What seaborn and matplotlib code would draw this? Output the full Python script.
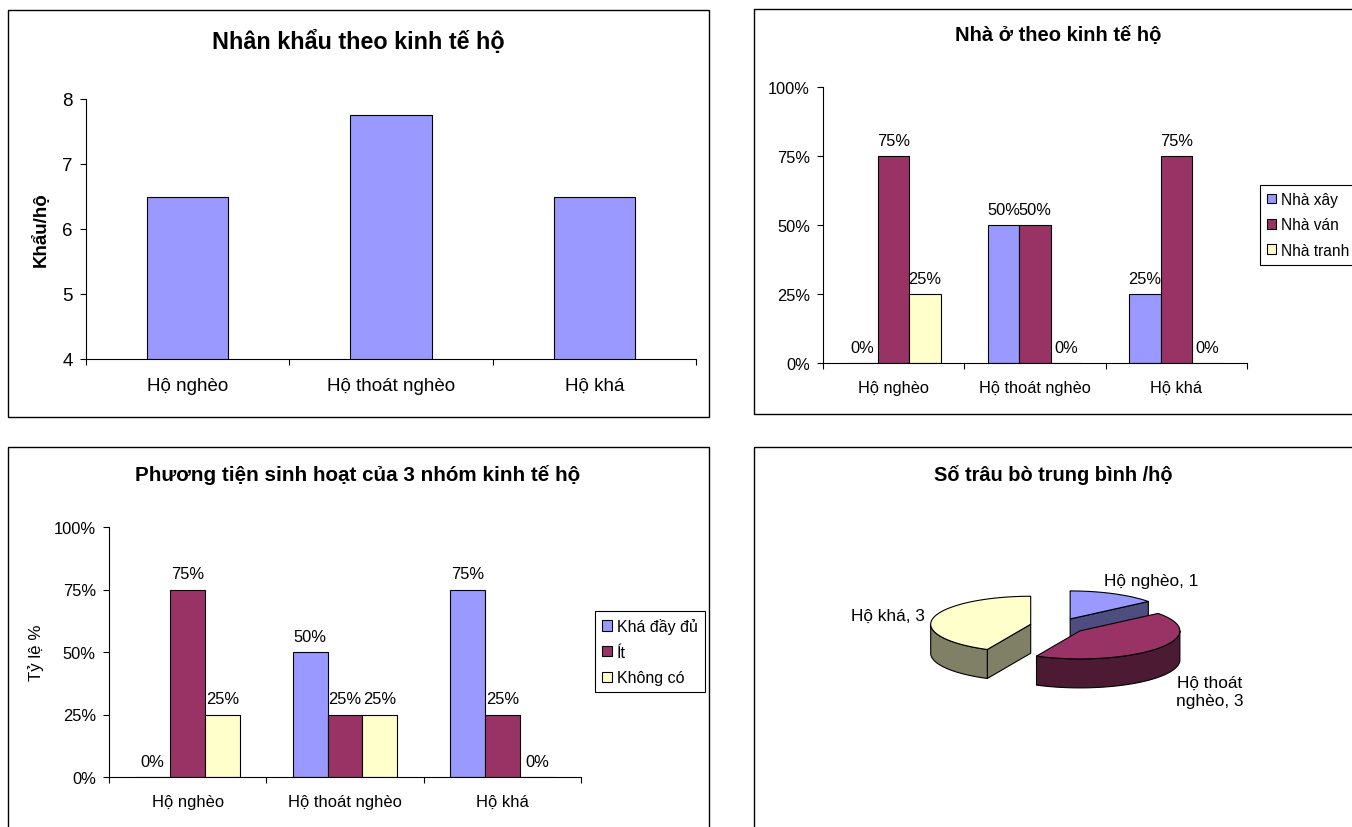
import numpy as np
import pandas as pd
import matplotlib
matplotlib.use("Agg")
import matplotlib.pyplot as plt
import seaborn as sns
from matplotlib.patches import Polygon, Rectangle, Patch
from matplotlib.ticker import PercentFormatter

# ---------------- data ----------------
categories = ["Hộ nghèo", "Hộ thoát nghèo", "Hộ khá"]

# persons per household
household_size = [6.5, 7.75, 6.5]

# housing type shares
housing_types = ["Nhà xây", "Nhà ván", "Nhà tranh"]
housing_brick = [0.00, 0.50, 0.25]
housing_plank = [0.75, 0.50, 0.75]
housing_thatch = [0.25, 0.00, 0.00]

# household amenities shares
amenity_levels = ["Khá đầy đủ", "Ít", "Không có"]
amenity_full = [0.00, 0.50, 0.75]
amenity_few = [0.75, 0.25, 0.25]
amenity_none = [0.25, 0.25, 0.00]

# average buffalo / cattle per household
cattle_labels = ["Hộ nghèo", "Hộ thoát\nnghèo", "Hộ khá"]
cattle_counts = [1, 3, 3]

# ---------------- style ----------------
BLUE, PLUM, CREAM = "#9999FF", "#993366", "#FFFFCC"
sns.set_style("ticks", {"axes.edgecolor": "black", "text.color": "black",
                        "axes.labelcolor": "black", "xtick.color": "black",
                        "ytick.color": "black"})
plt.rcParams["font.family"] = ["Liberation Sans", "DejaVu Sans"]

W, H = 1352, 828
fig = plt.figure(figsize=(W / 100, H / 100), dpi=100)
fig.patch.set_facecolor("white")

# background canvas in pixel units (y grows downward) for frames, titles and the 3-D pie
bg = fig.add_axes([0, 0, 1, 1])
bg.set_xlim(0, W)
bg.set_ylim(H, 0)
bg.axis("off")


def px_axes(left, top, right, bottom):
    return fig.add_axes([left / W, 1 - bottom / H, (right - left) / W, (bottom - top) / H])


# chart frames
for (l, t, r, b) in [(8, 11, 709, 418), (754, 10, 1375, 415),
                     (8, 448, 709, 850), (754, 448, 1375, 850)]:
    bg.add_patch(Rectangle((l, t), r - l, b - t, fill=False, ec="black", lw=1.0,
                           clip_on=True))


def style_bar_axes(ax, fs, pad_x):
    sns.despine(ax=ax)
    for s in ["left", "bottom"]:
        ax.spines[s].set_color("black")
        ax.spines[s].set_linewidth(0.8)
    ax.set_facecolor("none")
    ax.set_xlabel("")
    ax.set_ylabel("")
    n = len(categories)
    ax.set_xlim(-0.5, n - 0.5)
    ax.set_xticks(np.arange(n + 1) - 0.5)
    ax.set_xticklabels([])
    ax.set_xticks(np.arange(n), minor=True)
    ax.set_xticklabels(categories, minor=True, fontsize=fs)
    ax.tick_params(axis="x", which="major", bottom=True, direction="out",
                   length=4, width=0.8, color="black")
    ax.tick_params(axis="x", which="minor", bottom=True, length=0, pad=pad_x)
    ax.tick_params(axis="y", left=True, direction="out", length=4, width=0.8,
                   labelsize=fs, pad=5.5, color="black")


# ---------------- chart 1: persons per household ----------------
ax1 = px_axes(86, 100, 696, 360)
sns.barplot(x=categories, y=household_size, color=BLUE, width=0.4, saturation=1,
            edgecolor="black", linewidth=0.8, ax=ax1)
ax1.set_ylim(4, 8)
ax1.set_yticks([4, 5, 6, 7, 8])
style_bar_axes(ax1, 13.5, 13)
ax1.set_ylabel("Khẩu/hộ", fontsize=13.5, fontweight="bold")
ax1.yaxis.set_label_coords(-0.059, 0.5)
bg.text(358, 42, "Nhân khẩu theo kinh tế hộ", ha="center", va="center",
        fontsize=16.8, fontweight="bold")


def grouped_chart(ax, levels, series, palette, fs):
    df = pd.DataFrame({
        "nhom": np.tile(categories, len(levels)),
        "loai": np.repeat(levels, len(categories)),
        "ty_le": np.concatenate(series),
    })
    sns.barplot(data=df, x="nhom", y="ty_le", hue="loai", order=categories,
                hue_order=levels, palette=palette, width=2 / 3, gap=0,
                saturation=1, edgecolor="black", linewidth=0.8, errorbar=None,
                legend=False, ax=ax)
    for cont, vals in zip(ax.containers, series):
        ax.bar_label(cont, labels=[f"{v:.0%}" for v in vals], padding=6,
                     fontsize=fs)
    ax.set_ylim(0, 1)
    ax.set_yticks([0, 0.25, 0.5, 0.75, 1.0])
    ax.yaxis.set_major_formatter(PercentFormatter(1.0, decimals=0))
    style_bar_axes(ax, fs, 12)


def box_legend(ax, levels, palette, x, y, fs):
    handles = [Patch(facecolor=c, edgecolor="black", linewidth=0.8) for c in palette]
    leg = ax.legend(handles, levels, loc="upper left", bbox_to_anchor=(x, y),
                    bbox_transform=bg.transData, borderaxespad=0, fontsize=fs,
                    frameon=True, fancybox=False, shadow=False, framealpha=1,
                    handlelength=0.6, handleheight=0.6, handletextpad=0.3,
                    labelspacing=0.66, borderpad=0.45)
    leg.get_frame().set_edgecolor("black")
    leg.get_frame().set_linewidth(0.8)
    leg.set_zorder(5)


palette3 = [BLUE, PLUM, CREAM]

# ---------------- chart 2: housing ----------------
ax2 = px_axes(823, 88, 1247, 364)
grouped_chart(ax2, housing_types, [housing_brick, housing_plank, housing_thatch],
              palette3, 11.8)
box_legend(ax2, housing_types, palette3, 1260, 186, 11.2)
bg.text(1058, 35, "Nhà ở theo kinh tế hộ", ha="center", va="center",
        fontsize=14.5, fontweight="bold")

# ---------------- chart 3: amenities ----------------
ax3 = px_axes(109, 528, 581, 778)
grouped_chart(ax3, amenity_levels, [amenity_full, amenity_few, amenity_none],
              palette3, 11.9)
ax3.set_ylabel("Tỷ lệ %", fontsize=12.2)
ax3.yaxis.set_label_coords(-0.138, 0.5)
box_legend(ax3, amenity_levels, palette3, 595, 612, 11.5)
bg.text(358, 475, "Phương tiện sinh hoạt của 3 nhóm kinh tế hộ", ha="center",
        va="center", fontsize=14.9, fontweight="bold")

# ---------------- chart 4: 3-D exploded pie ----------------
bg.text(1053, 475, "Số trâu bò trung bình /hộ", ha="center", va="center",
        fontsize=14.4, fontweight="bold")


def shade(hex_color, k=0.5):
    rgb = np.array(matplotlib.colors.to_rgb(hex_color))
    return tuple(rgb * k)


def pie3d(ax, values, colors, center, rx, ry, depth, explode, start=90.0):
    cx, cy = center
    total = float(sum(values))
    spans, a = [], start
    for v in values:
        a2 = a - 360.0 * v / total
        spans.append((a2, a))
        a = a2

    def rim(c, th, drop=0.0):
        t = np.radians(th)
        return np.column_stack([c[0] + rx * np.cos(t), c[1] - ry * np.sin(t) + drop])

    slices = []
    for (lo, hi), col in zip(spans, colors):
        m = np.radians((lo + hi) / 2)
        c = (cx + explode * rx * np.cos(m), cy - explode * ry * np.sin(m))
        slices.append((c, lo, hi, col))

    for c, lo, hi, col in sorted(slices, key=lambda s: s[0][1]):
        side = shade(col)
        kw = dict(ec="black", lw=0.8, joinstyle="round")
        # flat cut faces that face the viewer
        for edge, normal in [(hi, hi + 90), (lo, lo - 90)]:
            if np.sin(np.radians(normal)) < -1e-6:
                p = rim(c, [edge])[0]
                quad = [c, p, (p[0], p[1] + depth), (c[0], c[1] + depth)]
                ax.add_patch(Polygon(quad, closed=True, fc=side, **kw))
        # curved outer wall on the front half
        for k in range(-2, 2):
            w0, w1 = max(lo, 180 + 360 * k), min(hi, 360 + 360 * k)
            if w1 > w0:
                th = np.linspace(w0, w1, 80)
                top = rim(c, th)
                bot = rim(c, th[::-1], depth)
                ax.add_patch(Polygon(np.vstack([top, bot]), closed=True, fc=side, **kw))
        # top face
        th = np.linspace(lo, hi, 120)
        ax.add_patch(Polygon(np.vstack([[c], rim(c, th)]), closed=True, fc=col, **kw))
    return [(s[0], (s[1] + s[2]) / 2) for s in slices]


pie_colors = [BLUE, PLUM, CREAM]
RX, RY, DEPTH = 100, 28, 29
info = pie3d(bg, cattle_counts, pie_colors, (1058, 627), RX, RY, DEPTH, 0.28)

# label placement relative to each slice's rim point at its mid-angle
label_offsets = [(-10, -13, "left"), (52, 43, "center"), (-8, -3, "right")]
for (c, mid), name, val, (dx, dy, ha) in zip(info, cattle_labels, cattle_counts,
                                             label_offsets):
    t = np.radians(mid)
    px, py = c[0] + RX * np.cos(t), c[1] - RY * np.sin(t)
    bg.text(px + dx, py + dy, f"{name}, {val}", ha=ha, va="center",
            multialignment="center", fontsize=12.4, linespacing=1.25)

fig.savefig("out.png", dpi=100, facecolor="white")
